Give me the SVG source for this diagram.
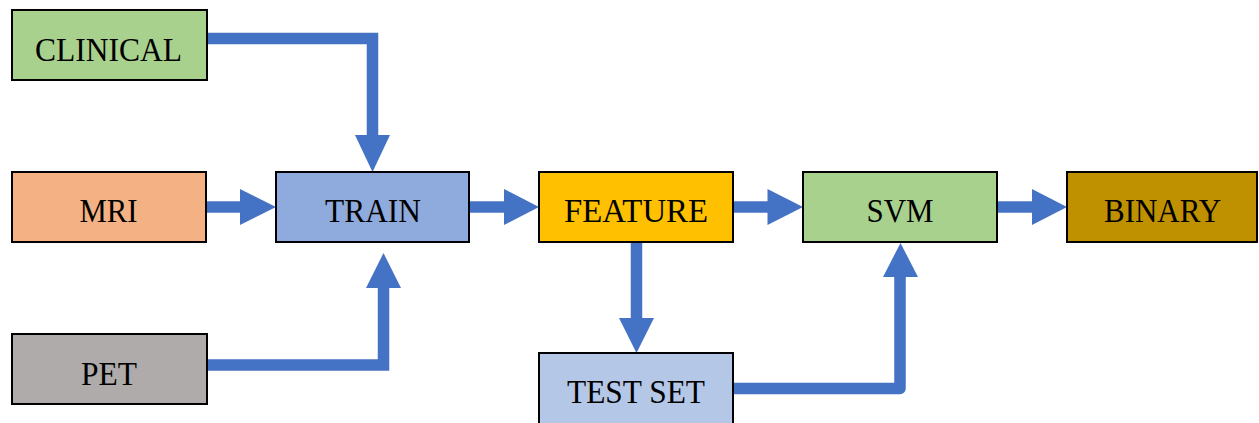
<svg xmlns="http://www.w3.org/2000/svg" width="1259" height="423" viewBox="0 0 1259 423">
  <style>
    .box { stroke: #000; stroke-width: 2; }
    .lbl { font-family: 'Liberation Serif', 'DejaVu Serif', serif; font-size: 34px; fill: #000; text-anchor: middle; }
    .wire { fill: none; stroke: #4472C4; stroke-width: 11.5; }
    .head { fill: #4472C4; stroke: none; }
  </style>
  <rect width="1259" height="423" fill="#fff"/>

  <!-- connectors -->
  <g id="connectors">
    <path class="wire" d="M207,38.5 H372.5 V137" stroke-linejoin="miter"/>
    <polygon class="head" points="355,135 390,135 372.5,172"/>

    <path class="wire" d="M206,207 H242"/>
    <polygon class="head" points="240,189 240,225 276,207"/>

    <path class="wire" d="M207,365 H383.5 V286" stroke-linejoin="miter"/>
    <polygon class="head" points="366,288 401,288 383.5,253"/>

    <path class="wire" d="M469,207 H506"/>
    <polygon class="head" points="504,189 504,225 539,207"/>

    <path class="wire" d="M733,207 H769"/>
    <polygon class="head" points="767.5,189 767.5,225 803,207"/>

    <path class="wire" d="M997,207 H1033"/>
    <polygon class="head" points="1032,189 1032,225 1067,207"/>

    <path class="wire" d="M636.5,242 V320"/>
    <polygon class="head" points="619,318 654,318 636.5,353"/>

    <path class="wire" d="M733,388.5 H900 V275" stroke-linejoin="round"/>
    <polygon class="head" points="883,277 918,277 900.5,243"/>
  </g>

  <!-- nodes -->
  <g id="clinical">
    <rect class="box" x="12" y="10" width="195" height="70" fill="#A9D18E"/>
    <text class="lbl" x="108.5" y="61" textLength="147" lengthAdjust="spacingAndGlyphs" font-family="Liberation Serif, serif">CLINICAL</text>
  </g>
  <g id="mri">
    <rect class="box" x="12" y="172" width="194" height="70" fill="#F4B183"/>
    <text class="lbl" x="108.5" y="222" textLength="58" lengthAdjust="spacingAndGlyphs">MRI</text>
  </g>
  <g id="pet">
    <rect class="box" x="12" y="334" width="195" height="70" fill="#AFABAB"/>
    <text class="lbl" x="109" y="385" textLength="56" lengthAdjust="spacingAndGlyphs">PET</text>
  </g>
  <g id="train">
    <rect class="box" x="276" y="172" width="193" height="70" fill="#8FAADC"/>
    <text class="lbl" x="373" y="222" textLength="96" lengthAdjust="spacingAndGlyphs">TRAIN</text>
  </g>
  <g id="feature">
    <rect class="box" x="539" y="172" width="194" height="70" fill="#FFC000"/>
    <text class="lbl" x="636" y="222" textLength="144" lengthAdjust="spacingAndGlyphs">FEATURE</text>
  </g>
  <g id="test-set">
    <rect class="box" x="539" y="353" width="194" height="72" fill="#B4C7E7"/>
    <text class="lbl" x="636" y="403" textLength="138" lengthAdjust="spacingAndGlyphs">TEST SET</text>
  </g>
  <g id="svm">
    <rect class="box" x="803" y="172" width="194" height="70" fill="#A9D18E"/>
    <text class="lbl" x="900" y="222" textLength="67" lengthAdjust="spacingAndGlyphs">SVM</text>
  </g>
  <g id="binary">
    <rect class="box" x="1067" y="172" width="190" height="70" fill="#BF9000"/>
    <text class="lbl" x="1162.5" y="222" textLength="117" lengthAdjust="spacingAndGlyphs">BINARY</text>
  </g>
</svg>
